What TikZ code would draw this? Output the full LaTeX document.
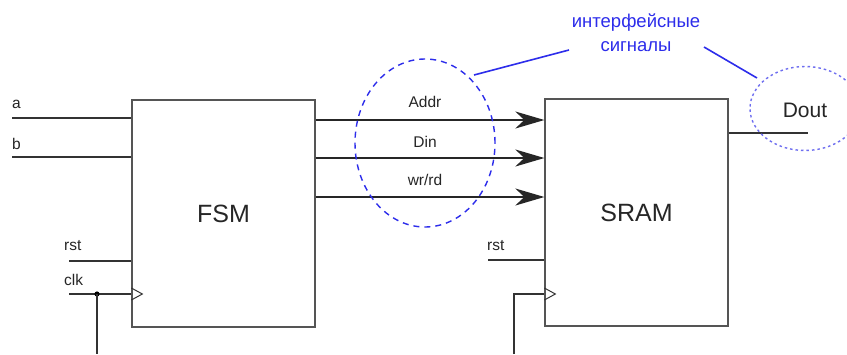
\documentclass[tikz,border=0pt]{standalone}
\usepackage{fontspec}
\setmainfont{Liberation Sans}
\usetikzlibrary{arrows.meta,shapes.geometric,calc}
\definecolor{annblue}{RGB}{45,45,235}
\definecolor{lightblue}{RGB}{110,110,240}
\definecolor{boxgray}{RGB}{85,85,85}
\begin{document}
\begin{tikzpicture}[x=1pt,y=-1pt,
  block/.style={draw=boxgray,line width=1.3pt,rectangle,minimum width=183pt,minimum height=227pt,inner sep=0pt,font=\fontsize{25}{28}\selectfont,text=black!85},
  wire/.style={draw=black!80,line width=1.1pt},
  bus/.style={draw=black!85,line width=1.9pt,-{Stealth[length=29pt,width=17pt,inset=9pt]}},
  lbl/.style={font=\fontsize{15.5}{17}\selectfont,text=black!85,inner sep=0pt},
  sig/.style={font=\fontsize{15.5}{17}\selectfont,text=black!85,inner sep=0pt},
  clktri/.style={draw=black!80,line width=1pt},
  bigell/.style={draw=annblue,line width=1.4pt,dash pattern=on 6pt off 5pt,ellipse,minimum width=140pt,minimum height=168pt,inner sep=0pt},
  smallell/.style={draw=lightblue,line width=1.4pt,dash pattern=on 2.5pt off 3pt,ellipse,minimum width=110pt,minimum height=84pt,inner sep=0pt},
  lead/.style={draw=annblue,line width=1.6pt}]
\useasboundingbox (0,0) rectangle (847,354);
\clip (0,0) rectangle (847,354);
\fill[white] (0,0) rectangle (847,354);

% blocks
\node[block] (fsm) at (223.5,213.5) {FSM};
\node[block] (sram) at (636.5,212.5) {SRAM};

% FSM inputs
\coordinate (ain) at (12,118);
\coordinate (bin) at (12,157);
\coordinate (rstin) at (69,261);
\coordinate (clkin) at (69,294);
\coordinate (clkbot) at (97,354);
\draw[wire] (ain) -- (ain -| fsm.west);
\draw[wire] (bin) -- (bin -| fsm.west);
\draw[wire] (rstin) -- (rstin -| fsm.west);
\draw[wire] (clkin) -- (clkin -| fsm.west);
\node[lbl,anchor=base west] (la) at (12,108) {a};
\node[lbl,anchor=base west] (lb) at (12,149) {b};
\node[lbl,anchor=base west] (lrst1) at (64,250) {rst};
\node[lbl,anchor=base west] (lclk) at (64,285) {clk};
\coordinate (clkdot) at (clkbot |- clkin);
\fill[black] (clkdot) circle (2.6pt);
\draw[wire] (clkdot) -- (clkbot);
\draw[clktri] ($(fsm.west |- clkin)+(0,-6)$) -- ($(fsm.west |- clkin)+(11,0)$) -- ($(fsm.west |- clkin)+(0,6)$);

% buses
\coordinate (y1) at (0,120);
\coordinate (y2) at (0,158);
\coordinate (y3) at (0,197);
\draw[bus] (fsm.east |- y1) -- (sram.west |- y1);
\draw[bus] (fsm.east |- y2) -- (sram.west |- y2);
\draw[bus] (fsm.east |- y3) -- (sram.west |- y3);
\node[sig,anchor=base] (laddr) at (425,107) {Addr};
\node[sig,anchor=base] (ldin) at (425,147) {Din};
\node[sig,anchor=base] (lwr) at (425,185) {wr/rd};

% SRAM inputs
\coordinate (rst2) at (488,260);
\coordinate (clk2bot) at (514,354);
\coordinate (clk2y) at (0,294);
\draw[wire] (rst2) -- (rst2 -| sram.west);
\node[lbl,anchor=base west] (lrst2) at (487,250) {rst};
\draw[wire] (clk2bot) -- (clk2bot |- clk2y) -- (sram.west |- clk2y);
\draw[clktri] ($(sram.west |- clk2y)+(0,-6)$) -- ($(sram.west |- clk2y)+(11,0)$) -- ($(sram.west |- clk2y)+(0,6)$);

% Dout
\coordinate (doutend) at (808,133);
\draw[wire] (sram.east |- doutend) -- (doutend);
\node[font=\fontsize{21}{24}\selectfont,text=black!85,inner sep=0pt] (dout) at (805,110) {Dout};

% annotation
\node[bigell] (ell) at (425,143) {};
\node[smallell] (ell2) at (805,108.5) {};
\node[font=\fontsize{18.5}{21}\selectfont,text=annblue,align=center,inner sep=0pt] (ann) at (636,33) {интерфейсные\\[3pt]сигналы};
\coordinate (l1a) at (474,75);
\coordinate (l1b) at (569,50);
\coordinate (l2a) at (704,47);
\coordinate (l2b) at (757,78);
\draw[lead] (l1a) -- (l1b);
\draw[lead] (l2a) -- (l2b);
\end{tikzpicture}
\end{document}
